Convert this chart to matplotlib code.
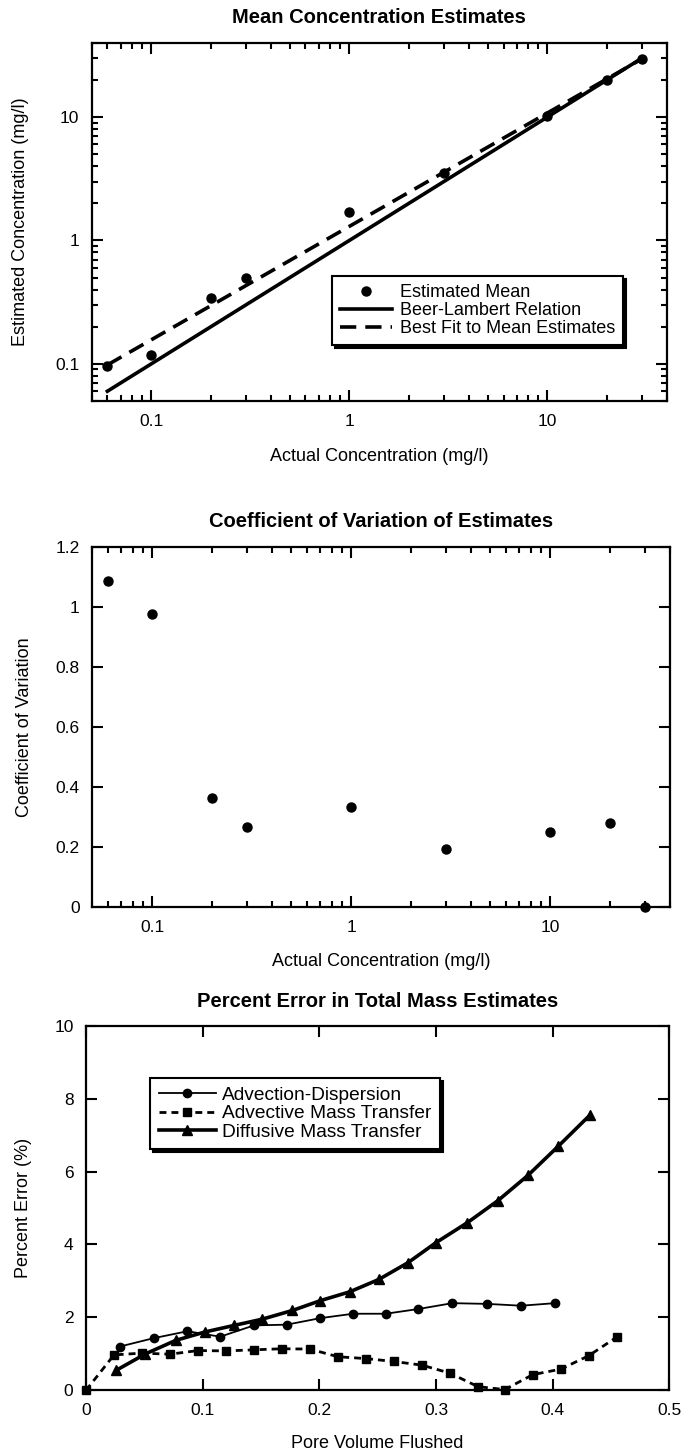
import matplotlib
matplotlib.use("Agg")
import matplotlib.pyplot as plt
from matplotlib.ticker import LogLocator, FuncFormatter, NullFormatter, FixedLocator

plt.rcParams['font.family'] = ['Liberation Sans', 'DejaVu Sans']

# ---------------- data ----------------
actual_conc = [0.06, 0.1, 0.2, 0.3, 1, 3, 10, 20, 30]
estimated_mean = [0.096, 0.118, 0.34, 0.50, 1.70, 3.5, 10.1, 19.8, 29.7]
beer_lambert_x = [0.06, 30]
beer_lambert_y = [0.06, 30]
best_fit_x = [0.06, 30]
best_fit_y = [0.098, 29.6]

cv_values = [1.086, 0.978, 0.364, 0.267, 0.333, 0.194, 0.251, 0.28, 0.0]

ad_x = [0.029, 0.058, 0.087, 0.115, 0.144, 0.172, 0.201, 0.229, 0.257, 0.285,
        0.314, 0.344, 0.373, 0.402]
ad_y = [1.20, 1.43, 1.62, 1.47, 1.78, 1.80, 1.98, 2.10, 2.10, 2.23,
        2.39, 2.37, 2.32, 2.39]

amt_x = [0.0, 0.024, 0.048, 0.072, 0.096, 0.120, 0.144, 0.168, 0.192, 0.216,
         0.240, 0.264, 0.288, 0.312, 0.336, 0.359, 0.383, 0.407, 0.431, 0.455]
amt_y = [0.0, 0.97, 1.02, 0.99, 1.09, 1.08, 1.11, 1.14, 1.13, 0.92,
         0.87, 0.79, 0.69, 0.47, 0.10, 0.02, 0.43, 0.58, 0.95, 1.46]

dmt_x = [0.026, 0.051, 0.077, 0.102, 0.127, 0.151, 0.177, 0.201, 0.226, 0.251,
         0.276, 0.300, 0.327, 0.353, 0.379, 0.405, 0.432]
dmt_y = [0.55, 1.00, 1.37, 1.60, 1.78, 1.95, 2.19, 2.46, 2.70, 3.04,
         3.50, 4.05, 4.60, 5.20, 5.90, 6.70, 7.55]

# ---------------- figure ----------------
W, H = 682, 1453
fig = plt.figure(figsize=(W / 100, H / 100), dpi=100)

def rect(l, r, t, b):
    return [l / W, 1 - b / H, (r - l) / W, (b - t) / H]

ax1 = fig.add_axes(rect(91.7, 666.7, 42.7, 401))
ax2 = fig.add_axes(rect(92.3, 670, 547.3, 907))
ax3 = fig.add_axes(rect(86, 669.3, 1025.7, 1390.3))

TICK_FS = 12.5
LABEL_FS = 13
TITLE_FS = 14.5
LEG_FS = 13

gfmt = FuncFormatter(lambda v, p: '%g' % v)
shadow_kw = {'facecolor': 'black', 'edgecolor': 'black', 'alpha': 1}

def style(ax):
    for s in ax.spines.values():
        s.set_linewidth(1.6)
    ax.tick_params(which='both', direction='in', top=True, right=True,
                   width=1.5, labelsize=TICK_FS)
    ax.tick_params(which='major', length=8, pad=9)
    ax.tick_params(which='minor', length=4.5)

# ---- plot 1 ----
ax1.set_xscale('log')
ax1.set_yscale('log')
ax1.set_xlim(0.05, 40)
ax1.set_ylim(0.05, 40)
ax1.plot(actual_conc, estimated_mean, 'o', color='black', ms=6.5,
         label='Estimated Mean', zorder=3)
ax1.plot(beer_lambert_x, beer_lambert_y, '-', color='black', lw=2.6,
         label='Beer-Lambert Relation')
ax1.plot(best_fit_x, best_fit_y, '--', color='black', lw=2.6, dashes=(4.5, 2.5),
         label='Best Fit to Mean Estimates')
for a in (ax1.xaxis, ax1.yaxis):
    a.set_major_locator(FixedLocator([0.1, 1, 10]))
    a.set_major_formatter(gfmt)
    a.set_minor_locator(LogLocator(base=10, subs=range(2, 10), numticks=20))
    a.set_minor_formatter(NullFormatter())
style(ax1)
ax1.set_title('Mean Concentration Estimates', fontsize=TITLE_FS, fontweight='bold',
              y=1.0717, va='center', pad=0)
ax1.set_xlabel('Actual Concentration (mg/l)', fontsize=LABEL_FS)
ax1.set_ylabel('Estimated Concentration (mg/l)', fontsize=LABEL_FS)
ax1.xaxis.set_label_coords(0.5, -0.131)
ax1.yaxis.set_label_coords(-0.109, 0.5)
leg1 = ax1.legend(loc='lower right', bbox_to_anchor=(0.924, 0.156), borderaxespad=0,
                  fontsize=LEG_FS, frameon=True, fancybox=False, edgecolor='black',
                  handlelength=2.9, handletextpad=0.4, labelspacing=0.05,
                  borderpad=0.45, shadow=shadow_kw)
leg1.get_frame().set_linewidth(1.5)

# ---- plot 2 ----
ax2.set_xscale('log')
ax2.set_xlim(0.05, 40)
ax2.set_ylim(0, 1.2)
ax2.plot(actual_conc, cv_values, 'o', color='black', ms=6.5, clip_on=False, zorder=3)
ax2.xaxis.set_major_locator(FixedLocator([0.1, 1, 10]))
ax2.xaxis.set_major_formatter(gfmt)
ax2.xaxis.set_minor_locator(LogLocator(base=10, subs=range(2, 10), numticks=20))
ax2.xaxis.set_minor_formatter(NullFormatter())
ax2.set_yticks([0, 0.2, 0.4, 0.6, 0.8, 1.0, 1.2])
ax2.yaxis.set_major_formatter(gfmt)
style(ax2)
ax2.set_title('Coefficient of Variation of Estimates', fontsize=TITLE_FS,
              fontweight='bold', y=1.0712, va='center', pad=0)
ax2.set_xlabel('Actual Concentration (mg/l)', fontsize=LABEL_FS)
ax2.set_ylabel('Coefficient of Variation', fontsize=LABEL_FS)
ax2.xaxis.set_label_coords(0.5, -0.128)
ax2.yaxis.set_label_coords(-0.102, 0.5)

# ---- plot 3 ----
ax3.set_xlim(0, 0.5)
ax3.set_ylim(0, 10)
ax3.plot(ad_x, ad_y, '-o', color='black', lw=1.3, ms=6, label='Advection-Dispersion',
         zorder=3)
ax3.plot(amt_x, amt_y, '--s', color='black', lw=2.0, dashes=(2.5, 1.8), ms=5.5,
         label='Advective Mass Transfer', clip_on=False, zorder=3)
ax3.plot(dmt_x, dmt_y, '-^', color='black', lw=2.6, ms=6.5,
         label='Diffusive Mass Transfer', zorder=3)
ax3.set_xticks([0, 0.1, 0.2, 0.3, 0.4, 0.5])
ax3.set_yticks([0, 2, 4, 6, 8, 10])
ax3.xaxis.set_major_formatter(gfmt)
ax3.yaxis.set_major_formatter(gfmt)
style(ax3)
ax3.set_title('Percent Error in Total Mass Estimates', fontsize=TITLE_FS,
              fontweight='bold', y=1.0658, va='center', pad=0)
ax3.set_xlabel('Pore Volume Flushed', fontsize=LABEL_FS)
ax3.set_ylabel('Percent Error (%)', fontsize=LABEL_FS)
ax3.xaxis.set_label_coords(0.5, -0.122)
ax3.yaxis.set_label_coords(-0.0926, 0.5)
leg3 = ax3.legend(loc='upper left', bbox_to_anchor=(0.1097, 0.8566), borderaxespad=0,
                  fontsize=13.8, frameon=True, fancybox=False, edgecolor='black',
                  handlelength=3.0, handletextpad=0.3, labelspacing=0.05,
                  borderpad=0.45, shadow=shadow_kw)
leg3.get_frame().set_linewidth(1.5)

fig.savefig('out.png', dpi=100)
